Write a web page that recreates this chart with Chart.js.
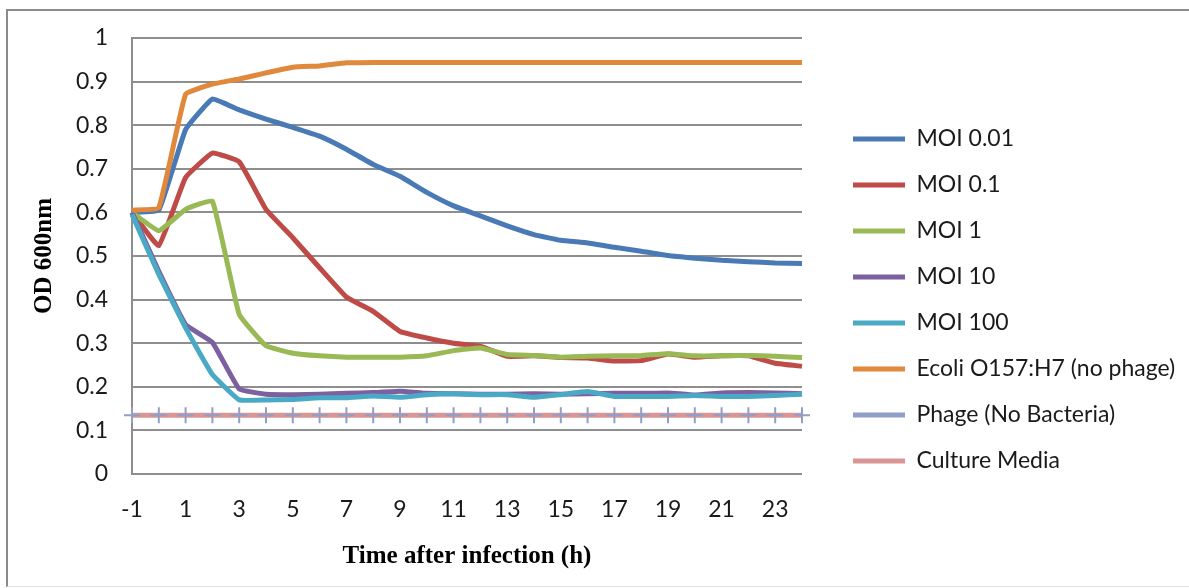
<!DOCTYPE html>
<html><head><meta charset="utf-8">
<script src="https://cdn.jsdelivr.net/npm/chart.js@4.4.0/dist/chart.umd.min.js"></script>
<style>
html,body{margin:0;padding:0;background:#fff;}
#wrap{position:relative;width:1189px;height:588px;overflow:hidden;}
#frame{position:absolute;left:6px;top:9px;width:1190px;height:578px;border-left:2px solid #8a8a8a;border-top:2px solid #8a8a8a;border-bottom:1px solid #e2e2e2;box-sizing:border-box;}
canvas{position:absolute;left:0;top:0;}
</style></head><body>
<div id="wrap"><div id="frame"></div><canvas id="c" width="1189" height="588"></canvas></div>
<script>
const hours = [-1,0,1,2,3,4,5,6,7,8,9,10,11,12,13,14,15,16,17,18,19,20,21,22,23,24];
const seriesNames = ["MOI 0.01","MOI 0.1","MOI 1","MOI 10","MOI 100","Ecoli O157:H7 (no phage)","Phage (No Bacteria)","Culture Media"];
const moi001 = [0.600,0.605,0.790,0.860,0.835,0.814,0.795,0.775,0.745,0.710,0.683,0.646,0.615,0.592,0.569,0.549,0.536,0.530,0.520,0.511,0.501,0.495,0.490,0.487,0.484,0.483];
const moi01  = [0.600,0.524,0.680,0.736,0.716,0.607,0.542,0.473,0.406,0.373,0.327,0.312,0.300,0.293,0.270,0.271,0.267,0.266,0.259,0.260,0.275,0.268,0.271,0.271,0.254,0.247];
const moi1   = [0.600,0.558,0.607,0.626,0.366,0.294,0.277,0.271,0.268,0.268,0.268,0.271,0.283,0.289,0.274,0.272,0.268,0.270,0.271,0.272,0.276,0.271,0.271,0.272,0.270,0.267];
const moi10  = [0.600,0.465,0.343,0.302,0.195,0.183,0.182,0.183,0.185,0.187,0.190,0.185,0.184,0.183,0.183,0.184,0.183,0.184,0.185,0.185,0.186,0.181,0.186,0.187,0.186,0.184];
const moi100 = [0.595,0.458,0.335,0.228,0.170,0.170,0.171,0.175,0.175,0.179,0.176,0.182,0.184,0.182,0.182,0.176,0.182,0.189,0.178,0.178,0.178,0.180,0.178,0.178,0.180,0.183];
const ecoli  = [0.605,0.611,0.871,0.894,0.906,0.920,0.933,0.936,0.943,0.944,0.944,0.944,0.944,0.944,0.944,0.944,0.944,0.944,0.944,0.944,0.944,0.944,0.944,0.944,0.944,0.944];
const phage  = [0.135,0.135,0.135,0.135,0.135,0.135,0.135,0.135,0.135,0.135,0.135,0.135,0.135,0.135,0.135,0.135,0.135,0.135,0.135,0.135,0.135,0.135,0.135,0.135,0.135,0.135];
const media  = [0.135,0.135,0.135,0.135,0.135,0.135,0.135,0.135,0.135,0.135,0.135,0.135,0.135,0.135,0.135,0.135,0.135,0.135,0.135,0.135,0.135,0.135,0.135,0.135,0.135,0.135];
const yTicks = [0,0.1,0.2,0.3,0.4,0.5,0.6,0.7,0.8,0.9,1];

const colors = ['#4a7ab5','#be4b48','#98b954','#7d60a0','#4aa9c4','#e0883c','#8f9fc8','#d99694'];
const values = [moi001,moi01,moi1,moi10,moi100,ecoli,phage,media];

const datasets = values.map((v,i)=>{
  const isPhage = i===6;
  return {
    label: seriesNames[i],
    data: v,
    borderColor: colors[i],
    backgroundColor: colors[i],
    borderWidth: 5,
    tension: 0.1,
    showLine: !isPhage,
    pointStyle: isPhage ? 'cross' : 'circle',
    pointRadius: isPhage ? 8 : 0,
    pointBorderWidth: isPhage ? 2 : 0,
    pointHoverRadius: isPhage ? 8 : 0,
    order: isPhage ? 0 : (10 - i)
  };
});

const tickFont = {family:'Lato', size:23};
const titleFont = {family:'Liberation Serif', size:25, weight:'bold'};
const LEGEND_PAD = 23;
const LEGEND_LEFT = 853 - LEGEND_PAD;

const chart = new Chart(document.getElementById('c'), {
  type:'line',
  data:{labels: hours.map(String), datasets},
  options:{
    responsive:false, animation:false, devicePixelRatio:1,
    layout:{padding:{left:26, top:38, right:0, bottom:26}},
    plugins:{
      tooltip:{enabled:false},
      legend:{
        position:'right', align:'center', maxWidth:600,
        labels:{
          boxWidth:52, boxHeight:5, padding:LEGEND_PAD, font:tickFont, color:'#1a1a1a',
          sort:(a,b)=>a.datasetIndex-b.datasetIndex,
          generateLabels:(ch)=>Chart.defaults.plugins.legend.labels.generateLabels(ch).map(l=>Object.assign(l,{fillStyle:ch.data.datasets[l.datasetIndex].borderColor,strokeStyle:'rgba(0,0,0,0)',lineWidth:0}))
        }
      }
    },
    scales:{
      x:{
        type:'category', offset:false,
        grid:{display:false}, border:{display:false},
        ticks:{autoSkip:false, maxRotation:0, padding:14, font:tickFont, color:'#1a1a1a',
          callback:(val,idx)=> (hours[idx] % 2 !== 0) ? String(hours[idx]) : ''},
        title:{display:true, text:'Time after infection (h)', font:titleFont, color:'#000', padding:{top:4,bottom:-10}},
        afterFit:(s)=>{ s.height = 88; }
      },
      y:{
        min:0, max:1,
        afterBuildTicks:(s)=>{ s.ticks = yTicks.map(v=>({value:v})); },
        grid:{color:'#8e8e8e', lineWidth:2, drawTicks:false},
        border:{display:true, color:'#8e8e8e', width:2},
        ticks:{padding:24, font:tickFont, color:'#1a1a1a', callback:(v)=>String(v)},
        title:{display:true, text:'OD 600nm', font:titleFont, color:'#000', padding:{top:4,bottom:4}},
        afterFit:(s)=>{ s.width = 106; }
      },
      yGap:{
        position:'right', display:true,
        grid:{display:false}, border:{display:false}, ticks:{display:false},
        afterFit:(s)=>{ s.width = LEGEND_LEFT - 802; }
      }
    }
  }
});
// fit the right padding so that the legend starts where the reference legend starts
chart.options.layout.padding.right = Math.max(0, 1189 - LEGEND_LEFT - chart.legend.width);
chart.update();
</script>
</body></html>
